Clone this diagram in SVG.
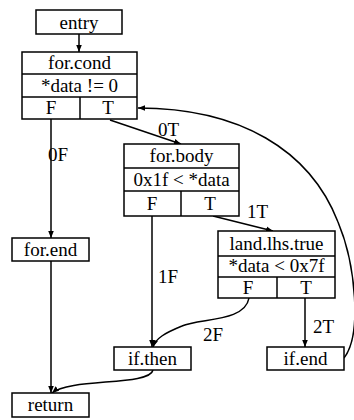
<svg xmlns="http://www.w3.org/2000/svg" width="354" height="420" viewBox="0 0 354 420">
<defs>
<style>
rect.n,line.d{fill:#fff;stroke:#000;stroke-width:1.5}
line.d{fill:none}
text{font-family:'Liberation Serif','Times New Roman',serif;font-size:19px;fill:#000;text-anchor:middle}
text.l{text-anchor:start}
.e{fill:none;stroke:#000;stroke-width:1.5;marker-end:url(#ah)}
</style>
<marker id="ah" viewBox="0 0 10 10" refX="10" refY="5" markerWidth="7" markerHeight="7" markerUnits="userSpaceOnUse" orient="auto">
<path d="M0,1 L10,5 L0,9 z" fill="#000"/>
</marker>
</defs>
<rect width="354" height="420" fill="#fff"/>
<g id="edges">
<path class="e" d="M79,34 L79,52"/>
<path class="e" d="M51,119 L51,238"/>
<path class="e" d="M110,120 L181,144"/>
<path class="e" d="M213,216 L273,231"/>
<path class="e" d="M152,216 L152,347"/>
<path class="e" d="M249,298 C245,322 200,318 182,326 C165,333 156,338 153,347"/>
<path class="e" d="M305,298 L305,347"/>
<path class="e" d="M344,358 C362,335 356,265 338,222 C310,150 240,108 138,108"/>
<path class="e" d="M153,370 C150,386 70,378 52,393"/>
<path class="e" d="M51,261 L51,393"/>
<text class="l" x="48" y="161">0F</text>
<text class="l" x="158" y="136">0T</text>
<text class="l" x="247" y="218">1T</text>
<text class="l" x="158" y="283">1F</text>
<text class="l" x="203" y="341">2F</text>
<text class="l" x="313" y="333">2T</text>
</g>
<g id="entry"><rect class="n" x="36" y="10" width="86" height="24"/><text x="79" y="29">entry</text></g>
<g id="for.cond">
<rect class="n" x="22" y="52" width="115" height="67"/>
<line class="d" x1="22" y1="74" x2="137" y2="74"/>
<line class="d" x1="22" y1="97" x2="137" y2="97"/>
<line class="d" x1="80" y1="97" x2="80" y2="119"/>
<text x="79.5" y="69">for.cond</text>
<text x="79.5" y="92">*data != 0</text>
<text x="51" y="114">F</text>
<text x="108" y="114">T</text>
</g>
<g id="for.body">
<rect class="n" x="124" y="144" width="115" height="72"/>
<line class="d" x1="124" y1="168" x2="239" y2="168"/>
<line class="d" x1="124" y1="191" x2="239" y2="191"/>
<line class="d" x1="181" y1="191" x2="181" y2="216"/>
<text x="181.5" y="162">for.body</text>
<text x="181.5" y="186">0x1f &lt; *data</text>
<text x="152" y="210">F</text>
<text x="210" y="210">T</text>
</g>
<g id="land.lhs.true">
<rect class="n" x="218" y="231" width="117" height="67"/>
<line class="d" x1="218" y1="256" x2="335" y2="256"/>
<line class="d" x1="218" y1="277" x2="335" y2="277"/>
<line class="d" x1="277" y1="277" x2="277" y2="298"/>
<text x="276.5" y="250">land.lhs.true</text>
<text x="276.5" y="272">*data &lt; 0x7f</text>
<text x="248" y="294">F</text>
<text x="306" y="294">T</text>
</g>
<g id="for.end"><rect class="n" x="12" y="238" width="77" height="23"/><text x="50.5" y="256">for.end</text></g>
<g id="if.then"><rect class="n" x="114" y="347" width="77" height="23"/><text x="152.5" y="365">if.then</text></g>
<g id="if.end"><rect class="n" x="267" y="347" width="77" height="23"/><text x="305.5" y="365">if.end</text></g>
<g id="return"><rect class="n" x="12" y="393" width="77" height="24"/><text x="50.5" y="411">return</text></g>
</svg>
